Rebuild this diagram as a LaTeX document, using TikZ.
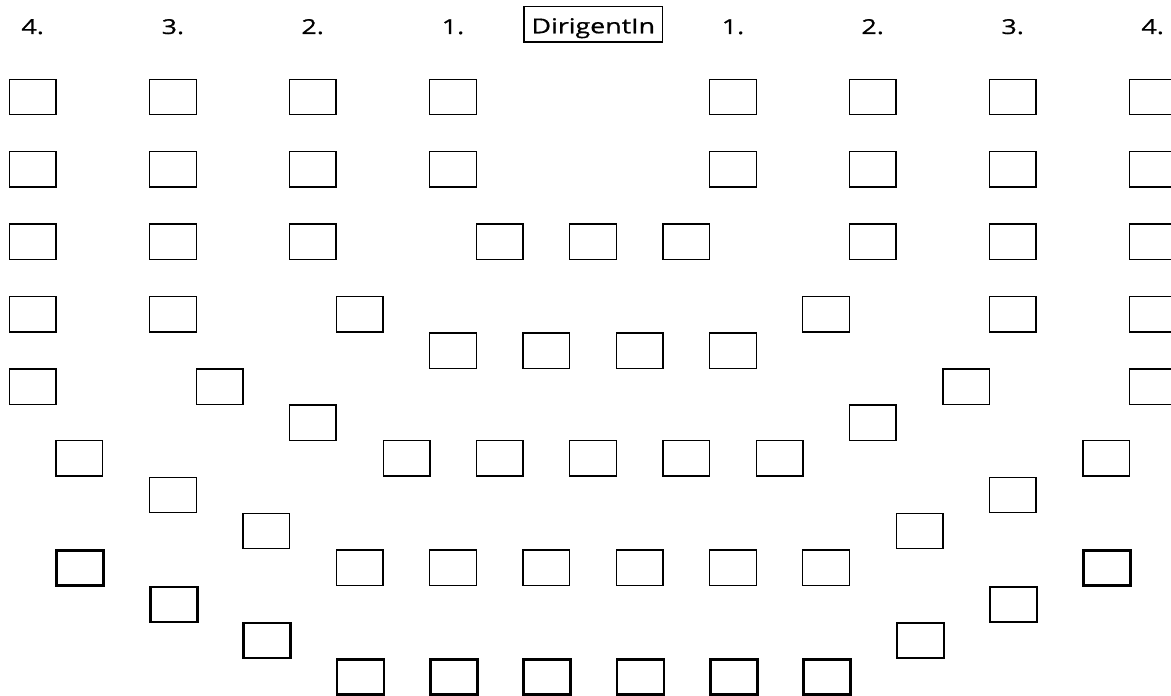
\documentclass[tikz,border=0pt]{standalone}
\usepackage{fontspec}
\setmainfont{Open Sans}
\newfontfamily\labfont{Open Sans}[FakeBold=0.7]
\begin{document}
\begin{tikzpicture}[x=1pt,y=-1pt,
  seat/.style={draw=black, line width=1.4pt, minimum width=46.6pt, minimum height=35.3pt, inner sep=0pt, anchor=north west},
  seatthick/.style={draw=black, line width=2.7pt, minimum width=47pt, minimum height=35pt, inner sep=0pt, anchor=north west},
  rowlabel/.style={font=\labfont\fontsize{20.6}{24}\selectfont, anchor=base, inner sep=0pt},
  conductor/.style={draw=black, line width=1.4pt, minimum width=138.6pt, minimum height=35.3pt, inner sep=0pt, text height=18pt, text depth=0pt, font=\labfont\fontsize{20.6}{24}\selectfont}
]
\useasboundingbox (0,0) rectangle (1171,696);
\fill[white] (0,0) rectangle (1171,696);
\clip (0,0) rectangle (1171,696);

% labels
\node[rowlabel] (l4) at (32.7,34) {\scalebox{1.3}[1]{4.}};
\node[rowlabel] (l3) at (172.9,34) {\scalebox{1.3}[1]{3.}};
\node[rowlabel] (l2) at (312.7,34) {\scalebox{1.3}[1]{2.}};
\node[rowlabel] (l1) at (453,34) {\scalebox{1.3}[1]{1.}};
\node[rowlabel] (r1) at (733,34) {\scalebox{1.3}[1]{1.}};
\node[rowlabel] (r2) at (872.7,34) {\scalebox{1.3}[1]{2.}};
\node[rowlabel] (r3) at (1012.7,34) {\scalebox{1.3}[1]{3.}};
\node[rowlabel] (r4) at (1152.7,34) {\scalebox{1.3}[1]{4.}};
\node[conductor] (dir) at (593.3,24.3) {\scalebox{1.3}[1]{DirigentIn}};

% thin seats
\foreach \x/\y [count=\i] in {
  8.7/78.7, 148.9/78.7, 288.7/78.7, 429/78.7, 709/78.7, 848.7/78.7, 988.7/78.7, 1128.7/78.7,
  8.7/151, 148.9/151, 288.7/151, 429/151, 709/151, 848.7/151, 988.7/151, 1128.7/151,
  8.7/223.3, 148.9/223.3, 288.7/223.3, 475.7/223.3, 569/223.3, 662.3/223.3, 848.7/223.3, 988.7/223.3, 1128.7/223.3,
  8.7/296, 148.9/296, 335.7/296, 802/296, 988.7/296, 1128.7/296,
  429/332.3, 522.3/332.3, 615.7/332.3, 709/332.3,
  8.7/368.3, 195.7/368.3, 942.3/368.3, 1128.7/368.3,
  288.7/404.3, 848.7/404.3,
  55.3/440, 382.7/440, 475.7/440, 569/440, 662.3/440, 755.7/440, 1082.3/440,
  148.9/476.7, 988.7/476.7,
  242.3/512.7, 895.7/512.7,
  335.7/549.3, 429/549.3, 522.3/549.3, 615.7/549.3, 709/549.3, 802/549.3}
  \node[seat] (s\i) at (\x,\y) {};

% thick seats
\foreach \x/\y [count=\i] in {
  55.3/549, 1082.3/549,
  148.9/585.7, 988.7/585.7,
  242.3/621.7, 895.7/621.7,
  335.7/658.3, 429/658.3, 522.3/658.3, 615.7/658.3, 709/658.3, 802/658.3}
  \node[seatthick] (t\i) at (\x,\y) {};
\end{tikzpicture}
\end{document}
